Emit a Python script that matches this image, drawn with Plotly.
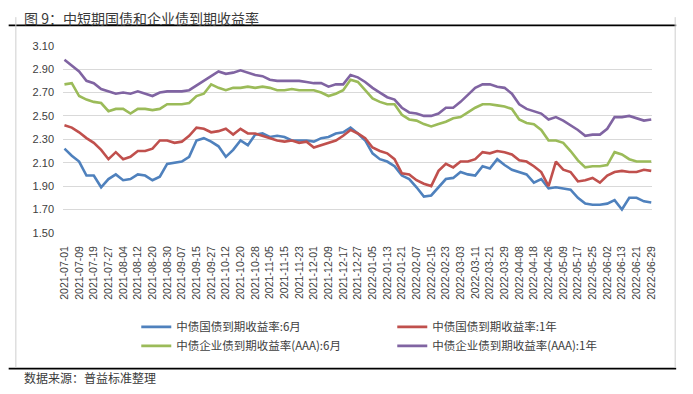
import plotly.graph_objects as go

# ---- data ----
tick_labels = [
    "2021-07-01", "2021-07-09", "2021-07-19", "2021-07-27", "2021-08-04", "2021-08-12",
    "2021-08-20", "2021-08-30", "2021-09-07", "2021-09-15", "2021-09-27", "2021-10-12",
    "2021-10-20", "2021-10-28", "2021-11-05", "2021-11-15", "2021-11-23", "2021-12-01",
    "2021-12-09", "2021-12-17", "2021-12-27", "2022-01-05", "2022-01-13", "2022-01-21",
    "2022-02-07", "2022-02-15", "2022-02-23", "2022-03-03", "2022-03-11", "2022-03-21",
    "2022-03-29", "2022-04-08", "2022-04-18", "2022-04-26", "2022-05-09", "2022-05-17",
    "2022-05-25", "2022-06-02", "2022-06-13", "2022-06-21", "2022-06-29",
]
TRADING_DAYS_PER_LABEL = 6
SAMPLE_STEP = 3  # values below are read every 3 trading days

gov_6m = [
    2.22, 2.16, 2.11, 1.99, 1.99, 1.89, 1.96, 2.00, 1.95, 1.96, 2.00, 1.99, 1.95, 1.98, 2.09, 2.10, 2.11, 2.15, 2.29, 2.31, 2.28,
    2.24, 2.15, 2.21, 2.29, 2.25, 2.34, 2.35, 2.32, 2.33, 2.32, 2.29, 2.29, 2.29, 2.28, 2.31, 2.32, 2.35, 2.36, 2.40, 2.35,
    2.29, 2.18, 2.13, 2.11, 2.07, 1.99, 1.96, 1.89, 1.81, 1.82, 1.89, 1.96, 1.97, 2.02, 2.00, 1.99, 2.07, 2.05, 2.13, 2.08,
    2.04, 2.02, 2.00, 1.93, 1.96, 1.88, 1.89, 1.88, 1.87, 1.80, 1.75, 1.74, 1.74, 1.75, 1.78, 1.70, 1.80, 1.80, 1.77, 1.76,
]
gov_1y = [
    2.42, 2.40, 2.36, 2.31, 2.27, 2.21, 2.13, 2.19, 2.13, 2.15, 2.20, 2.20, 2.22, 2.29, 2.29, 2.27, 2.28, 2.33, 2.40, 2.39, 2.36,
    2.37, 2.39, 2.34, 2.39, 2.35, 2.35, 2.33, 2.31, 2.29, 2.28, 2.29, 2.27, 2.28, 2.23, 2.25, 2.27, 2.29, 2.33, 2.38, 2.35,
    2.31, 2.23, 2.20, 2.18, 2.13, 2.01, 2.00, 1.95, 1.92, 1.90, 2.03, 2.09, 2.06, 2.11, 2.11, 2.13, 2.19, 2.18, 2.20, 2.19,
    2.17, 2.12, 2.11, 2.07, 2.02, 1.90, 2.11, 2.04, 2.02, 1.94, 1.95, 1.97, 1.93, 1.99, 2.02, 2.03, 2.02, 2.02, 2.04, 2.03,
]
corp_6m = [
    2.77, 2.78, 2.67, 2.64, 2.62, 2.61, 2.54, 2.56, 2.56, 2.52, 2.56, 2.56, 2.55, 2.56, 2.60, 2.60, 2.60, 2.61, 2.67, 2.69, 2.77,
    2.74, 2.72, 2.74, 2.74, 2.75, 2.74, 2.75, 2.74, 2.72, 2.72, 2.73, 2.72, 2.72, 2.72, 2.70, 2.67, 2.69, 2.72, 2.81, 2.79,
    2.72, 2.65, 2.62, 2.60, 2.60, 2.51, 2.47, 2.46, 2.43, 2.41, 2.43, 2.45, 2.48, 2.49, 2.53, 2.57, 2.60, 2.60, 2.59, 2.58,
    2.56, 2.47, 2.44, 2.43, 2.38, 2.29, 2.29, 2.27, 2.20, 2.12, 2.06, 2.07, 2.07, 2.08, 2.19, 2.17, 2.13, 2.11, 2.11, 2.11,
]
corp_1y = [
    2.98, 2.93, 2.88, 2.80, 2.78, 2.73, 2.71, 2.69, 2.70, 2.69, 2.71, 2.69, 2.67, 2.70, 2.71, 2.71, 2.71, 2.72, 2.76, 2.80, 2.84,
    2.88, 2.86, 2.87, 2.89, 2.87, 2.85, 2.84, 2.81, 2.80, 2.80, 2.80, 2.80, 2.79, 2.78, 2.78, 2.75, 2.77, 2.77, 2.85, 2.83,
    2.79, 2.74, 2.70, 2.66, 2.64, 2.57, 2.53, 2.52, 2.50, 2.50, 2.52, 2.57, 2.57, 2.62, 2.68, 2.74, 2.77, 2.77, 2.75, 2.74,
    2.69, 2.60, 2.56, 2.54, 2.52, 2.47, 2.49, 2.46, 2.42, 2.38, 2.33, 2.34, 2.34, 2.39, 2.49, 2.49, 2.50, 2.48, 2.46, 2.47,
]
series_names = [
    "中债国债到期收益率:6月",
    "中债国债到期收益率:1年",
    "中债企业债到期收益率(AAA):6月",
    "中债企业债到期收益率(AAA):1年",
]
y_ticks = [1.50, 1.70, 1.90, 2.10, 2.30, 2.50, 2.70, 2.90, 3.10]

# ---- figure ----
W, H = 693, 394
PL, PR, PT, PB = 59, 656, 41, 234  # plot area in pixels


def fx(xp):  # pixel -> paper (paper == whole figure, margins are zero)
    return xp / W


def fy(yp):
    return 1 - yp / H


colors = ["#4F81BD", "#C0504D", "#9BBB59", "#8064A2"]
sample_x = [i * SAMPLE_STEP for i in range(len(gov_6m))]
tick_x = [i * TRADING_DAYS_PER_LABEL for i in range(len(tick_labels))]

fig = go.Figure()
for name, vals, c in zip(series_names, [gov_6m, gov_1y, corp_6m, corp_1y], colors):
    fig.add_trace(go.Scatter(x=sample_x, y=vals, mode="lines", name=name,
                             line=dict(color=c, width=2.6)))

font_cjk = "Noto Sans CJK SC, Liberation Sans, sans-serif"
fig.update_layout(
    width=W, height=H,
    margin=dict(l=0, r=0, t=0, b=0),
    paper_bgcolor="white", plot_bgcolor="white",
    font=dict(family=font_cjk, color="#404040"),
    showlegend=True,
    legend=dict(
        orientation="h", x=fx(133), y=fy(316), xanchor="left", yanchor="top",
        entrywidth=211, entrywidthmode="pixels", itemwidth=30,
        font=dict(size=11.5, color="#404040", family=font_cjk),
        tracegroupgap=0, bgcolor="rgba(0,0,0,0)",
    ),
    xaxis=dict(
        domain=[fx(PL), fx(PR)],
        range=[-0.5, tick_x[-1] + 0.5], tickmode="array", tickvals=tick_x, ticktext=tick_labels,
        tickangle=-90, showgrid=False, zeroline=False, showline=False,
        ticks="outside", ticklen=8, tickcolor="rgba(0,0,0,0)",
        tickfont=dict(size=10.5, family="Liberation Sans, Arial, sans-serif", color="#404040"),
    ),
    yaxis=dict(
        domain=[fy(PB), fy(PT)],
        range=[1.50, 3.10], tickmode="array", tickvals=y_ticks,
        ticktext=[f"{v:.2f}" for v in y_ticks],
        showgrid=True, gridcolor="#D9D9D9", gridwidth=1, zeroline=False, showline=False,
        ticks="outside", ticklen=6, tickcolor="rgba(0,0,0,0)",
        tickfont=dict(size=11, family="Liberation Sans, Arial, sans-serif", color="#404040"),
    ),
)

# page frame drawn as arrow-only annotations: (head x, head y, tail dx, tail dy, colour, width)
frame_lines = [
    (680, 20, -669, 0, "#000000", 1.6),
    (680, 374, -669, 0, "#000000", 1.6),
    (11, 373, 0, -352, "#CFCFCF", 1),
    (679, 373, 0, -352, "#CFCFCF", 1),
]
for hx, hy, dx, dy, col, wid in frame_lines:
    fig.add_annotation(text="", xref="paper", yref="paper", x=fx(hx), y=fy(hy),
                       ax=dx, ay=dy, axref="pixel", ayref="pixel",
                       showarrow=True, arrowhead=0, arrowwidth=wid, arrowcolor=col,
                       standoff=0, startstandoff=0)

fig.add_annotation(text="图 9：中短期国债和企业债到期收益率", xref="paper", yref="paper",
                   x=fx(17), y=fy(12), xanchor="left", yanchor="middle", showarrow=False,
                   font=dict(size=14, color="#3a3a3a", family=font_cjk))
fig.add_annotation(text="数据来源：普益标准整理", xref="paper", yref="paper",
                   x=fx(17), y=fy(383), xanchor="left", yanchor="middle", showarrow=False,
                   font=dict(size=12, color="#3a3a3a", family=font_cjk))

# remove the browser's default page margin so the figure sits at the window origin
fig.write_html("out.html", config={"displayModeBar": False},
               post_script="document.body.style.margin='0';document.body.style.overflow='hidden';")
